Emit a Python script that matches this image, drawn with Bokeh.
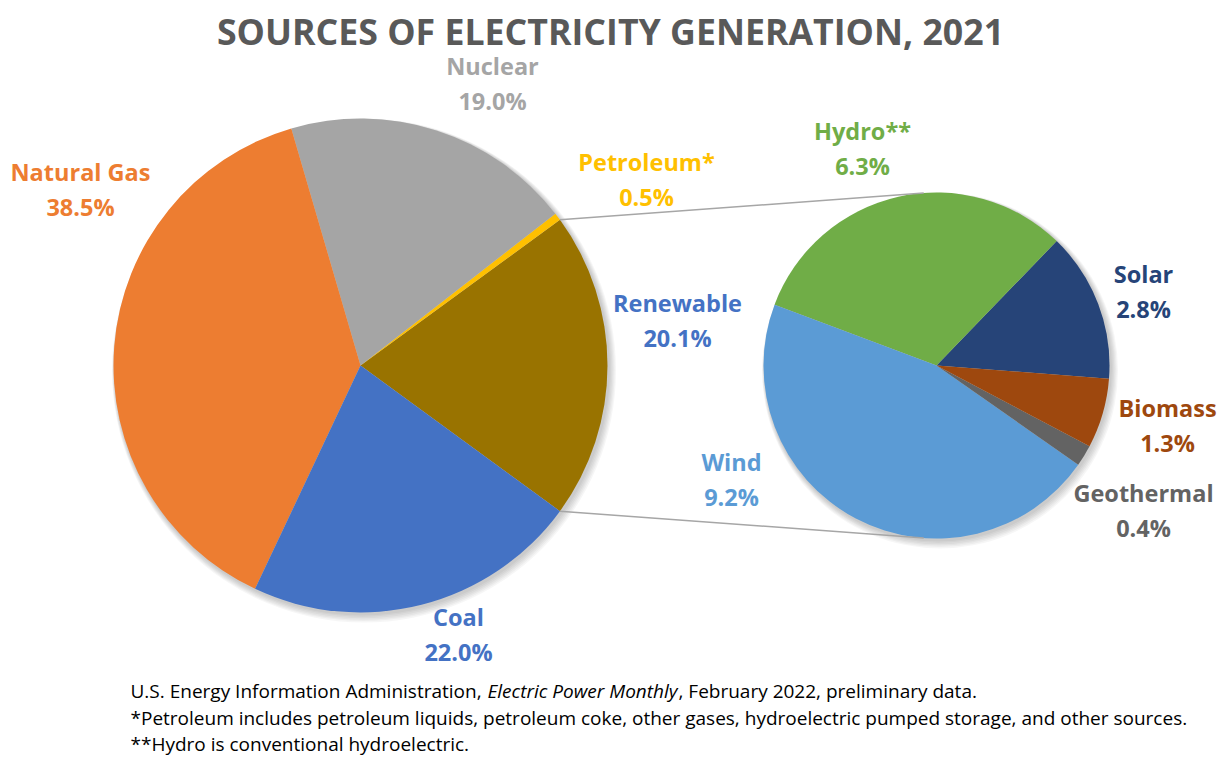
import math
from bokeh.plotting import figure
from bokeh.models import Range1d
from bokeh.core.properties import value
from bokeh.embed import file_html
from bokeh.resources import INLINE

W, H = 1220, 757

# ---- data ----
main_categories = ["Renewable", "Petroleum*", "Nuclear", "Natural Gas", "Coal"]
main_values = [20.1, 0.5, 19.0, 38.5, 22.0]
main_colors = ["#997300", "#FFC000", "#A5A5A5", "#ED7D31", "#4472C4"]
main_label_colors = ["#4472C4", "#FFC000", "#A5A5A5", "#ED7D31", "#4472C4"]

sub_categories = ["Solar", "Hydro**", "Wind", "Geothermal", "Biomass"]
sub_values = [2.8, 6.3, 9.2, 0.4, 1.3]
sub_colors = ["#264478", "#70AD47", "#5B9BD5", "#636363", "#9E480E"]

title_text = "SOURCES OF ELECTRICITY GENERATION, 2021"
notes = [
    "*Petroleum includes petroleum liquids, petroleum coke, other gases, hydroelectric pumped storage, and other sources.",
    "**Hydro is conventional hydroelectric.",
]
source_parts = ["U.S. Energy Information Administration,", "Electric Power Monthly", ",  February 2022,  preliminary data."]

# ---- layout (pixel positions, y measured from top) ----
MAIN_C = (360, 365)
MAIN_R = 247
SUB_C = (936, 365)
SUB_R = 173
SUB_START = -4.4  # degrees, start of first secondary slice

main_label_pos = {
    "Renewable": (677, 302),
    "Petroleum*": (646, 161),
    "Nuclear": (492, 65),
    "Natural Gas": (80, 171),
    "Coal": (458, 616),
}
sub_label_pos = {
    "Solar": (1143, 273),
    "Hydro**": (862, 130),
    "Wind": (731, 461),
    "Geothermal": (1143, 492),
    "Biomass": (1167, 407),
}
LINE_GAP = 35

def Y(y):
    return H - y

p = figure(width=W, height=H, x_range=Range1d(0, W), y_range=Range1d(0, H),
           output_backend="svg", toolbar_location=None,
           x_axis_type=None, y_axis_type=None, min_border=0)
p.grid.visible = False
p.outline_line_color = None
p.background_fill_color = "white"

FONT = value("Open Sans")

# shadows
for (cx, cy), r in [(MAIN_C, MAIN_R), (SUB_C, SUB_R)]:
    for i in range(6):
        p.circle(x=[cx + 1.5 + i * 0.4], y=[Y(cy) - 2 - i * 0.6], radius=r + 1 + i * 0.8,
                 fill_color="black", fill_alpha=0.035, line_color=None)

# main pie
tot = sum(main_values)
ren_span = main_values[0] / tot * 360
start = -ren_span / 2
starts, ends = [], []
a = start
for v in main_values:
    starts.append(math.radians(a))
    a += v / tot * 360
    ends.append(math.radians(a))
p.wedge(x=[MAIN_C[0]] * len(main_values), y=[Y(MAIN_C[1])] * len(main_values), radius=MAIN_R,
        start_angle=starts, end_angle=ends,
        fill_color=main_colors, line_color=None)

# secondary pie
stot = sum(sub_values)
s_starts, s_ends = [], []
a = SUB_START
for v in sub_values:
    s_starts.append(math.radians(a))
    a += v / stot * 360
    s_ends.append(math.radians(a))
p.wedge(x=[SUB_C[0]] * len(sub_values), y=[Y(SUB_C[1])] * len(sub_values), radius=SUB_R,
        start_angle=s_starts, end_angle=s_ends,
        fill_color=sub_colors, line_color=None)

# connector lines (tangent from renewable slice edges to secondary pie)
for sign in (1, -1):
    ang = math.radians(sign * ren_span / 2)
    px = MAIN_C[0] + MAIN_R * math.cos(ang)
    py = Y(MAIN_C[1]) + MAIN_R * math.sin(ang)
    dx, dy = px - SUB_C[0], py - Y(SUB_C[1])
    d = math.hypot(dx, dy)
    phi = math.atan2(dy, dx)
    t = phi - sign * math.acos(SUB_R / d)
    tx = SUB_C[0] + SUB_R * math.cos(t)
    ty = Y(SUB_C[1]) + SUB_R * math.sin(t)
    p.line(x=[px, tx], y=[py, ty], line_color="#A6A6A6", line_width=1.5)

# labels
def label(x, y, name, pct, color):
    p.text(x=[x], y=[Y(y)], text=[name], text_font=FONT, text_font_style="bold",
           text_font_size="23.5px", text_color=color, text_align="center", text_baseline="middle")
    p.text(x=[x], y=[Y(y + LINE_GAP)], text=[pct], text_font=FONT, text_font_style="bold",
           text_font_size="23.5px", text_color=color, text_align="center", text_baseline="middle")

for name, v, c in zip(main_categories, main_values, main_label_colors):
    x, y = main_label_pos[name]
    label(x, y, name, f"{v:.1f}%", c)
for name, v, c in zip(sub_categories, sub_values, sub_colors):
    x, y = sub_label_pos[name]
    label(x, y, name, f"{v:.1f}%", c)

# title
p.text(x=[610], y=[Y(30)], text=[title_text], text_font=FONT, text_font_style="bold",
       text_font_size="35.7px", text_color="#595959", text_align="center", text_baseline="middle")

# footnotes
src_x = [130, 487, 678]
styles = ["normal", "italic", "normal"]
for sx, part, st in zip(src_x, source_parts, styles):
    p.text(x=[sx], y=[Y(690)], text=[part], text_font=FONT, text_font_style=st,
           text_font_size="19px", text_color="black", text_align="left", text_baseline="middle")
for i, n in enumerate(notes):
    p.text(x=[130], y=[Y(717 + i * 26)], text=[n], text_font=FONT,
           text_font_size="19px", text_color="black", text_align="left", text_baseline="middle")

open("out.html", "w").write(file_html(p, INLINE))
